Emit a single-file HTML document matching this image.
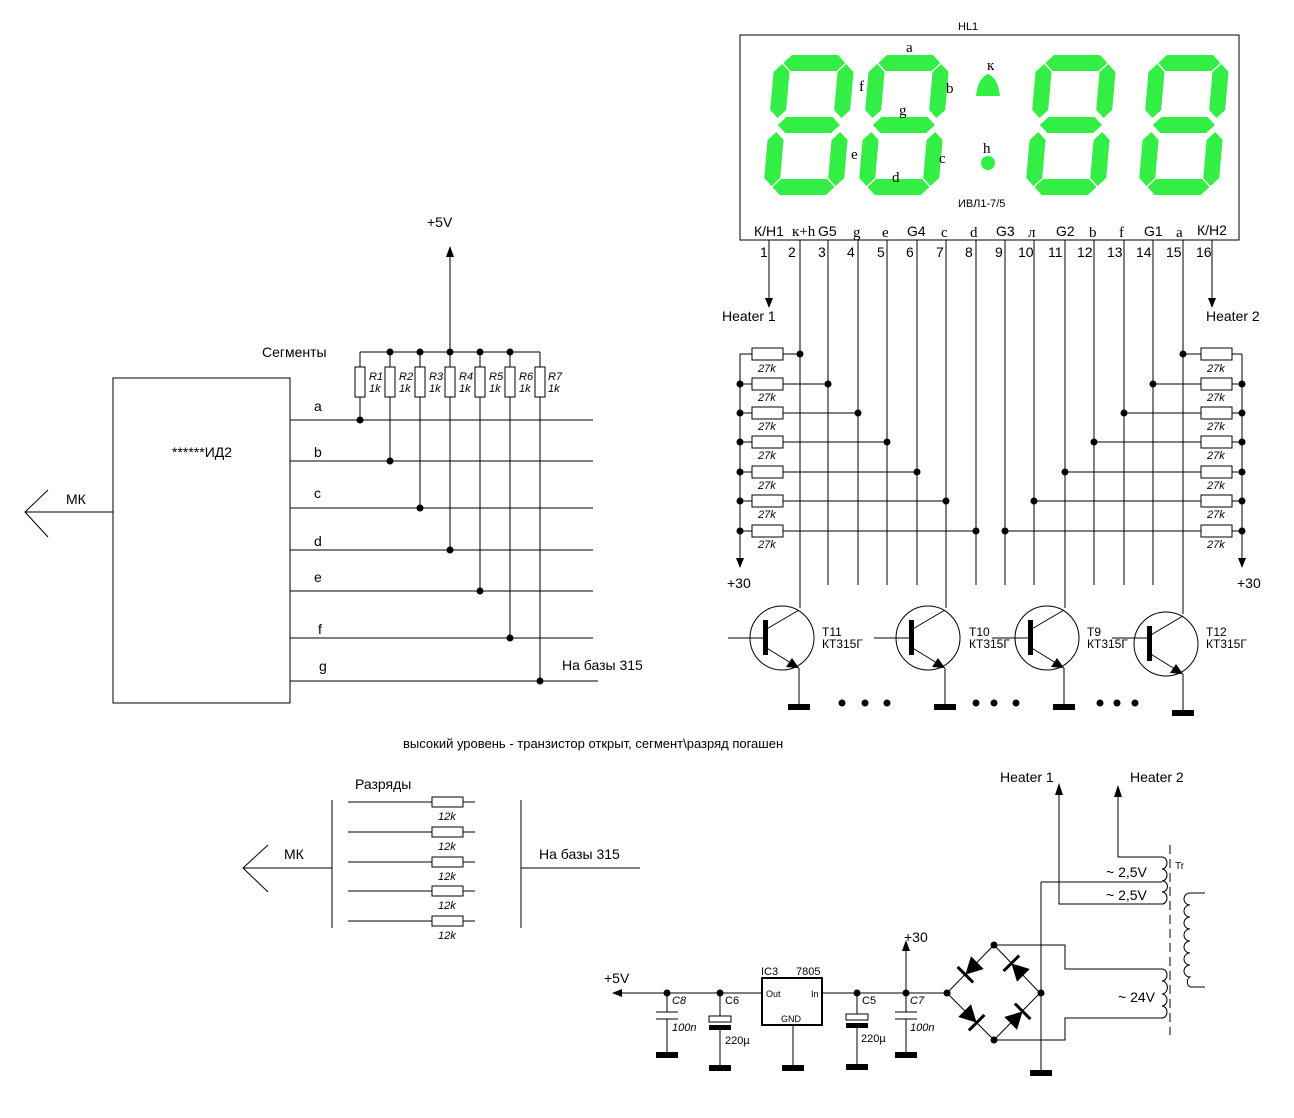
<!DOCTYPE html>
<html><head><meta charset="utf-8"><style>
body{margin:0;background:#fff}
svg{display:block}
text{font-family:"Liberation Sans",sans-serif;font-size:14px;fill:#000}
.s{font-family:"Liberation Serif",serif;font-size:15px}
.i{font-style:italic;font-size:11px}
.sm{font-size:11px}
.tl{font-size:12px}
.xs{font-size:9px}
</style></head><body>
<svg width="1294" height="1118" viewBox="0 0 1294 1118" xmlns="http://www.w3.org/2000/svg">
<defs>
<g id="dg" fill="#33ee44">
<polygon points="9,8 17,0 63,0 71,8 63,16 17,16"/>
<polygon points="0,17 8,9 16,17 16,55 8,63 0,55"/>
<polygon points="64,17 72,9 80,17 80,55 72,63 64,55"/>
<polygon points="9,70 17,62 63,62 71,70 63,78 17,78"/>
<polygon points="0,85 8,77 16,85 16,123 8,131 0,123"/>
<polygon points="64,85 72,77 80,85 80,123 72,131 64,123"/>
<polygon points="9,132 17,124 63,124 71,132 63,140 17,140"/>
</g>
<g id="rh"><rect x="-15" y="-6" width="31" height="12" fill="#fff" stroke="#000"/></g>
<g id="gnd"><rect x="-11" y="-3" width="22" height="6" fill="#000"/></g>
<g id="dio"><polygon points="-9,-9 -9,9 8,0" fill="#000"/><line x1="8" y1="-11" x2="8" y2="11" stroke="#000" stroke-width="3"/></g>
</defs>

<!-- display -->
<text x="958" y="30" class="sm">HL1</text>
<rect x="740" y="35" width="499" height="205" fill="none" stroke="#000"/>
<g transform="translate(775,55) skewX(-5)"><use href="#dg"/></g>
<g transform="translate(870,55) skewX(-5)"><use href="#dg"/></g>
<g transform="translate(1037,55) skewX(-5)"><use href="#dg"/></g>
<g transform="translate(1150,55) skewX(-5)"><use href="#dg"/></g>
<path d="M976,96 Q978,78 988,74 Q998,78 1000,96 Z" fill="#33ee44"/>
<circle cx="988" cy="163" r="7" fill="#33ee44"/>
<g><text x="906" y="52" class="s">a</text><text x="946" y="93" class="s">b</text><text x="859" y="91" class="s">f</text><text x="899" y="115" class="s">g</text><text x="851" y="159" class="s">e</text><text x="939" y="163" class="s">c</text><text x="892" y="182" class="s">d</text><text x="983" y="153" class="s">h</text><text x="987" y="70" class="s">к</text></g>
<text x="958" y="207" class="sm">ИВЛ1-7/5</text>
<g>
<text x="754" y="236">К/Н1</text><text x="792" y="236" class="s">к+h</text><text x="818" y="236">G5</text><text x="853" y="237" class="s">g</text><text x="882" y="237" class="s">e</text><text x="907" y="236">G4</text><text x="941" y="237" class="s">c</text><text x="970" y="237" class="s">d</text><text x="996" y="236">G3</text><text x="1028" y="237" class="s">л</text><text x="1056" y="236">G2</text><text x="1089" y="237" class="s">b</text><text x="1119" y="237" class="s">f</text><text x="1144" y="236">G1</text><text x="1176" y="237" class="s">a</text><text x="1197" y="235">К/Н2</text>
</g>
<g>
<text x="760" y="257">1</text><text x="788" y="257">2</text><text x="818" y="257">3</text><text x="847" y="257">4</text><text x="877" y="257">5</text><text x="906" y="257">6</text><text x="936" y="257">7</text><text x="965" y="257">8</text><text x="995" y="257">9</text><text x="1018" y="257">10</text><text x="1048" y="257">11</text><text x="1077" y="257">12</text><text x="1107" y="257">13</text><text x="1136" y="257">14</text><text x="1166" y="257">15</text><text x="1196" y="257">16</text>
</g>
<g stroke="#000" fill="none">
<line x1="769" y1="240" x2="769" y2="300"/><line x1="1212" y1="240" x2="1212" y2="300"/>
<line x1="800" y1="240" x2="800" y2="608"/>
<line x1="828" y1="240" x2="828" y2="585"/>
<line x1="858" y1="240" x2="858" y2="585"/>
<line x1="887" y1="240" x2="887" y2="585"/>
<line x1="917" y1="240" x2="917" y2="585"/>
<line x1="946" y1="240" x2="946" y2="608"/>
<line x1="976" y1="240" x2="976" y2="585"/>
<line x1="1005" y1="240" x2="1005" y2="585"/>
<line x1="1034" y1="240" x2="1034" y2="585"/>
<line x1="1065" y1="240" x2="1065" y2="608"/>
<line x1="1094" y1="240" x2="1094" y2="585"/>
<line x1="1124" y1="240" x2="1124" y2="585"/>
<line x1="1153" y1="240" x2="1153" y2="585"/>
<line x1="1183" y1="240" x2="1183" y2="614"/>
<line x1="740" y1="354" x2="740" y2="558"/><line x1="1242" y1="354" x2="1242" y2="558"/>
<line x1="740" y1="354" x2="800" y2="354"/><line x1="740" y1="384" x2="828" y2="384"/><line x1="740" y1="413" x2="858" y2="413"/><line x1="740" y1="442" x2="887" y2="442"/><line x1="740" y1="472" x2="917" y2="472"/><line x1="740" y1="501" x2="946" y2="501"/><line x1="740" y1="531" x2="976" y2="531"/>
<line x1="1183" y1="354" x2="1242" y2="354"/><line x1="1153" y1="384" x2="1242" y2="384"/><line x1="1124" y1="413" x2="1242" y2="413"/><line x1="1094" y1="442" x2="1242" y2="442"/><line x1="1065" y1="472" x2="1242" y2="472"/><line x1="1034" y1="501" x2="1242" y2="501"/><line x1="1005" y1="531" x2="1242" y2="531"/>
</g>
<g fill="#000">
<polygon points="765,298 773,298 769,308"/><polygon points="1208,298 1216,298 1212,308"/>
<polygon points="736,558 744,558 740,568"/><polygon points="1238,558 1246,558 1242,568"/>
</g>
<text x="722" y="321">Heater 1</text><text x="1206" y="321">Heater 2</text>
<text x="727" y="588">+30</text><text x="1237" y="588">+30</text>
<g>
<use href="#rh" x="767" y="354"/><use href="#rh" x="767" y="384"/><use href="#rh" x="767" y="413"/><use href="#rh" x="767" y="442"/><use href="#rh" x="767" y="472"/><use href="#rh" x="767" y="501"/><use href="#rh" x="767" y="531"/>
<use href="#rh" x="1216" y="354"/><use href="#rh" x="1216" y="384"/><use href="#rh" x="1216" y="413"/><use href="#rh" x="1216" y="442"/><use href="#rh" x="1216" y="472"/><use href="#rh" x="1216" y="501"/><use href="#rh" x="1216" y="531"/>
</g>
<g>
<text x="758" y="372" class="i">27k</text><text x="758" y="401" class="i">27k</text><text x="758" y="430" class="i">27k</text><text x="758" y="459" class="i">27k</text><text x="758" y="489" class="i">27k</text><text x="758" y="518" class="i">27k</text><text x="758" y="548" class="i">27k</text>
<text x="1207" y="372" class="i">27k</text><text x="1207" y="401" class="i">27k</text><text x="1207" y="430" class="i">27k</text><text x="1207" y="459" class="i">27k</text><text x="1207" y="489" class="i">27k</text><text x="1207" y="518" class="i">27k</text><text x="1207" y="548" class="i">27k</text>
</g>
<g fill="#000">
<circle cx="800" cy="354" r="3.5"/><circle cx="828" cy="384" r="3.5"/><circle cx="858" cy="413" r="3.5"/><circle cx="887" cy="442" r="3.5"/><circle cx="917" cy="472" r="3.5"/><circle cx="946" cy="501" r="3.5"/><circle cx="976" cy="531" r="3.5"/>
<circle cx="740" cy="384" r="3.5"/><circle cx="740" cy="413" r="3.5"/><circle cx="740" cy="442" r="3.5"/><circle cx="740" cy="472" r="3.5"/><circle cx="740" cy="501" r="3.5"/><circle cx="740" cy="531" r="3.5"/>
<circle cx="1183" cy="354" r="3.5"/><circle cx="1153" cy="384" r="3.5"/><circle cx="1124" cy="413" r="3.5"/><circle cx="1094" cy="442" r="3.5"/><circle cx="1065" cy="472" r="3.5"/><circle cx="1034" cy="501" r="3.5"/><circle cx="1005" cy="531" r="3.5"/>
<circle cx="1242" cy="384" r="3.5"/><circle cx="1242" cy="413" r="3.5"/><circle cx="1242" cy="442" r="3.5"/><circle cx="1242" cy="472" r="3.5"/><circle cx="1242" cy="501" r="3.5"/><circle cx="1242" cy="531" r="3.5"/>
</g>

<!-- transistors -->
<g id="tr1">
<g stroke="#000" fill="none">
<circle cx="782" cy="638" r="32"/>
<line x1="765" y1="630" x2="799" y2="610"/>
<line x1="765" y1="647" x2="799" y2="668"/>
<line x1="799" y1="668" x2="799" y2="705"/>
</g>
<rect x="763" y="620" width="5" height="35" fill="#000"/>
<polygon points="799,668 786,667 792,658" fill="#000"/>
<use href="#gnd" x="799" y="707"/>
</g>
<use href="#tr1" transform="translate(146,0)"/>
<use href="#tr1" transform="translate(265,0)"/>
<use href="#tr1" transform="translate(384,6)"/>
<g stroke="#000">
<line x1="728" y1="638" x2="765" y2="638"/>
<line x1="874" y1="638" x2="911" y2="638"/>
<line x1="992" y1="638" x2="1030" y2="638"/>
<line x1="1112" y1="638" x2="1149" y2="638"/>
</g>
<g><text x="822" y="636" class="tl">T11</text><text x="822" y="648" class="tl">КТ315Г</text>
<text x="969" y="636" class="tl">T10</text><text x="969" y="648" class="tl">КТ315Г</text>
<text x="1087" y="636" class="tl">T9</text><text x="1087" y="648" class="tl">КТ315Г</text>
<text x="1206" y="636" class="tl">T12</text><text x="1206" y="648" class="tl">КТ315Г</text></g>
<g fill="#000"><circle cx="842" cy="703" r="3.5"/><circle cx="865" cy="703" r="3.5"/><circle cx="887" cy="703" r="3.5"/><circle cx="976" cy="703" r="3.5"/><circle cx="994" cy="703" r="3.5"/><circle cx="1016" cy="703" r="3.5"/><circle cx="1100" cy="703" r="3.5"/><circle cx="1117" cy="703" r="3.5"/><circle cx="1135" cy="703" r="3.5"/></g>

<!-- left decoder -->
<rect x="113" y="378" width="177" height="325" fill="none" stroke="#000"/>
<text x="172" y="457">******ИД2</text>
<g stroke="#000" fill="none">
<polyline points="48,490 25,512 48,537"/><line x1="25" y1="512" x2="113" y2="512"/>
<line x1="290" y1="420" x2="593" y2="420"/><line x1="290" y1="461" x2="593" y2="461"/><line x1="290" y1="508" x2="593" y2="508"/><line x1="290" y1="550" x2="593" y2="550"/><line x1="290" y1="591" x2="593" y2="591"/><line x1="290" y1="638" x2="593" y2="638"/><line x1="290" y1="681" x2="598" y2="681"/>
<line x1="450" y1="352" x2="450" y2="255"/><line x1="360" y1="352" x2="540" y2="352"/>
<line x1="360" y1="352" x2="360" y2="420"/><line x1="390" y1="352" x2="390" y2="461"/><line x1="420" y1="352" x2="420" y2="508"/><line x1="450" y1="352" x2="450" y2="550"/><line x1="480" y1="352" x2="480" y2="591"/><line x1="510" y1="352" x2="510" y2="638"/><line x1="540" y1="352" x2="540" y2="681"/>
</g>
<polygon points="446,257 454,257 450,246" fill="#000"/>
<g fill="#fff" stroke="#000"><rect x="355" y="367" width="10" height="30"/><rect x="385" y="367" width="10" height="30"/><rect x="415" y="367" width="10" height="30"/><rect x="445" y="367" width="10" height="30"/><rect x="475" y="367" width="10" height="30"/><rect x="505" y="367" width="10" height="30"/><rect x="535" y="367" width="10" height="30"/></g>
<g><text x="369" y="380" class="i">R1</text><text x="369" y="392" class="i">1k</text><text x="399" y="380" class="i">R2</text><text x="399" y="392" class="i">1k</text><text x="429" y="380" class="i">R3</text><text x="429" y="392" class="i">1k</text><text x="459" y="380" class="i">R4</text><text x="459" y="392" class="i">1k</text><text x="489" y="380" class="i">R5</text><text x="489" y="392" class="i">1k</text><text x="519" y="380" class="i">R6</text><text x="519" y="392" class="i">1k</text><text x="548" y="380" class="i">R7</text><text x="548" y="392" class="i">1k</text></g>
<g fill="#000"><circle cx="390" cy="352" r="3.5"/><circle cx="420" cy="352" r="3.5"/><circle cx="450" cy="352" r="3.5"/><circle cx="480" cy="352" r="3.5"/><circle cx="510" cy="352" r="3.5"/>
<circle cx="360" cy="420" r="3.5"/><circle cx="390" cy="461" r="3.5"/><circle cx="420" cy="508" r="3.5"/><circle cx="450" cy="550" r="3.5"/><circle cx="480" cy="591" r="3.5"/><circle cx="510" cy="638" r="3.5"/><circle cx="540" cy="681" r="3.5"/></g>
<text x="66" y="504">МК</text><text x="427" y="227">+5V</text><text x="262" y="357">Сегменты</text>
<text x="314" y="411">a</text><text x="314" y="457">b</text><text x="314" y="498">c</text><text x="314" y="546">d</text><text x="314" y="582">e</text><text x="318" y="634">f</text><text x="319" y="671">g</text>
<text x="562" y="670">На базы 315</text>

<text x="403" y="748" style="font-size:13px">высокий уровень - транзистор открыт, сегмент\разряд погашен</text>

<!-- digits block -->
<text x="355" y="789">Разряды</text>
<text x="284" y="859">МК</text><text x="539" y="859">На базы 315</text>
<g stroke="#000" fill="none">
<polyline points="268,845 243,868 268,892"/><line x1="243" y1="868" x2="332" y2="868"/>
<line x1="332" y1="800" x2="332" y2="928"/><line x1="521" y1="800" x2="521" y2="928"/>
<line x1="521" y1="868" x2="640" y2="868"/>
<line x1="348" y1="802" x2="475" y2="802"/><line x1="348" y1="832" x2="475" y2="832"/><line x1="348" y1="862" x2="475" y2="862"/><line x1="348" y1="891" x2="475" y2="891"/><line x1="348" y1="921" x2="475" y2="921"/>
</g>
<g fill="#fff" stroke="#000"><rect x="432" y="797" width="31" height="10"/><rect x="432" y="827" width="31" height="10"/><rect x="432" y="857" width="31" height="10"/><rect x="432" y="886" width="31" height="10"/><rect x="432" y="916" width="31" height="10"/></g>
<g><text x="438" y="820" class="i">12k</text><text x="438" y="850" class="i">12k</text><text x="438" y="880" class="i">12k</text><text x="438" y="909" class="i">12k</text><text x="438" y="939" class="i">12k</text></g>

<!-- power -->
<g stroke="#000" fill="none">
<line x1="615" y1="993" x2="762" y2="993"/><line x1="822" y1="993" x2="947" y2="993"/>
<rect x="762" y="978" width="60" height="47" stroke-width="2"/>
<line x1="667" y1="993" x2="667" y2="1012"/><line x1="656" y1="1012" x2="678" y2="1012"/><line x1="656" y1="1019" x2="678" y2="1019"/><line x1="667" y1="1019" x2="667" y2="1052"/>
<line x1="720" y1="993" x2="720" y2="1016"/><rect x="709" y="1016" width="22" height="6"/><line x1="720" y1="1030" x2="720" y2="1065"/>
<line x1="793" y1="1025" x2="793" y2="1065"/>
<line x1="857" y1="993" x2="857" y2="1014"/><rect x="846" y="1014" width="22" height="6"/><line x1="857" y1="1028" x2="857" y2="1064"/>
<line x1="906" y1="993" x2="906" y2="950"/><line x1="906" y1="993" x2="906" y2="1012"/><line x1="895" y1="1012" x2="917" y2="1012"/><line x1="895" y1="1019" x2="917" y2="1019"/><line x1="906" y1="1019" x2="906" y2="1052"/>
<polygon points="947,993 994,945 1040,993 994,1040"/>
<line x1="1041" y1="882" x2="1041" y2="1070"/><line x1="1041" y1="882" x2="1162" y2="882"/>
<polyline points="1059,793 1059,904 1162,904"/>
<polyline points="1118,795 1118,857 1162,857"/>
<polyline points="994,945 1065,945 1065,969 1162,969"/>
<polyline points="994,1040 1065,1040 1065,1018 1162,1018"/>
<path d="M1162,857 a5,6 0 0 1 0,12 a5,6 0 0 1 0,12 a5,5 0 0 1 0,11 a5,6 0 0 1 0,12"/>
<path d="M1162,969 a5,6 0 0 1 0,12 a5,6 0 0 1 0,13 a5,6 0 0 1 0,12 a5,6 0 0 1 0,12"/>
<line x1="1170" y1="845" x2="1170" y2="1035" stroke-dasharray="9,5"/>
<path d="M1190,893 a6,6 0 0 0 0,12 a6,6 0 0 0 0,12 a6,6 0 0 0 0,12 a6,6 0 0 0 0,12 a6,6 0 0 0 0,12 a6,6 0 0 0 0,12 a6,6 0 0 0 0,12 a6,6 0 0 0 0,10"/>
<line x1="1190" y1="893" x2="1205" y2="893"/><line x1="1190" y1="987" x2="1205" y2="987"/>
</g>
<g fill="#000">
<rect x="709" y="1025" width="22" height="5"/><rect x="846" y="1023" width="22" height="5"/>
<polygon points="612,993 622,989 622,997"/>
<polygon points="902,951 910,951 906,940"/>
<polygon points="1055,795 1063,795 1059,783"/><polygon points="1114,797 1122,797 1118,785"/>
<circle cx="667" cy="993" r="3.5"/><circle cx="720" cy="993" r="3.5"/><circle cx="857" cy="993" r="3.5"/><circle cx="906" cy="993" r="3.5"/>
<circle cx="947" cy="993" r="3.5"/><circle cx="994" cy="945" r="3.5"/><circle cx="1041" cy="993" r="3.5"/><circle cx="994" cy="1040" r="3.5"/>
</g>
<use href="#gnd" x="667" y="1055"/><use href="#gnd" x="720" y="1068"/><use href="#gnd" x="793" y="1068"/><use href="#gnd" x="857" y="1067"/><use href="#gnd" x="906" y="1055"/><use href="#gnd" x="1041" y="1073"/>
<g transform="translate(971,969) rotate(-45)"><use href="#dio" transform="rotate(180)"/></g>
<g transform="translate(1017,969) rotate(45)"><use href="#dio" transform="rotate(180)"/></g>
<g transform="translate(971,1017) rotate(45)"><use href="#dio"/></g>
<g transform="translate(1017,1017) rotate(-45)"><use href="#dio"/></g>
<text x="604" y="983">+5V</text><text x="904" y="942">+30</text>
<text x="761" y="975" class="sm">IC3</text><text x="796" y="975" class="sm">7805</text>
<text x="766" y="997" class="xs">Out</text><text x="811" y="997" class="xs">In</text><text x="781" y="1022" class="xs">GND</text>
<text x="672" y="1004" class="i">C8</text><text x="672" y="1031" class="i">100n</text>
<text x="725" y="1004" class="sm">C6</text><text x="725" y="1044" class="sm">220µ</text>
<text x="862" y="1004" class="sm">C5</text><text x="861" y="1042" class="sm">220µ</text>
<text x="910" y="1004" class="i">C7</text><text x="910" y="1031" class="i">100n</text>
<text x="1000" y="782">Heater 1</text><text x="1130" y="782">Heater 2</text>
<text x="1106" y="877">~ 2,5V</text><text x="1106" y="900">~ 2,5V</text><text x="1118" y="1002">~ 24V</text>
<text x="1175" y="869" style="font-size:10px">Tr</text>
</svg>
</body></html>
